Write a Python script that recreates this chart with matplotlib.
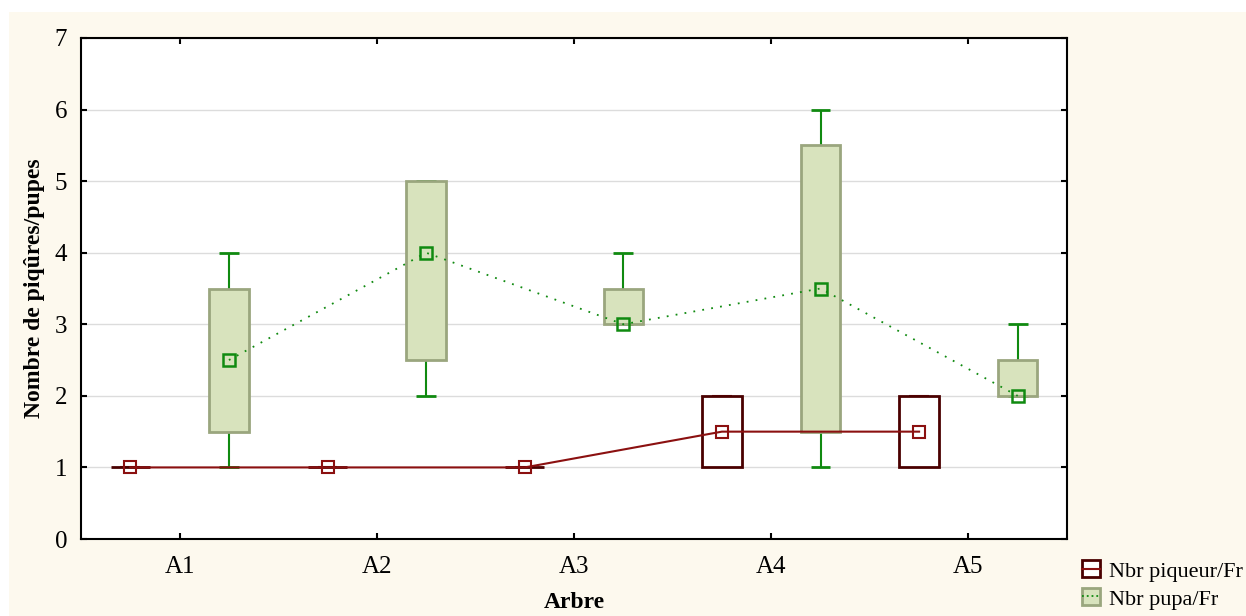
import numpy as np
import matplotlib
matplotlib.use('Agg')
import matplotlib.pyplot as plt
from matplotlib.patches import Patch, Rectangle
from matplotlib.lines import Line2D

# data
trees = ['A1', 'A2', 'A3', 'A4', 'A5']

piq_med = [1, 1, 1, 1.5, 1.5]
piq_q1 = [1, 1, 1, 1, 1]
piq_q3 = [1, 1, 1, 2, 2]
piq_min = [1, 1, 1, 1, 1]
piq_max = [1, 1, 1, 2, 2]

pupa_med = [2.5, 4, 3, 3.5, 2]
pupa_q1 = [1.5, 2.5, 3, 1.5, 2]
pupa_q3 = [3.5, 5, 3.5, 5.5, 2.5]
pupa_min = [1, 2, 3, 1, 2]
pupa_max = [4, 5, 4, 6, 3]

plt.rcParams['font.family'] = ['Liberation Serif', 'DejaVu Serif']

fig = plt.figure(figsize=(12.46, 6.16), dpi=100)
fig.patch.set_facecolor('white')
# cream background, with a thin white strip on top and left like the original
fig.patches.append(Rectangle((9 / 1246, 0), 1, (616 - 12) / 616, transform=fig.transFigure,
                             facecolor='#fdf9ee', edgecolor='none', zorder=-10))

ax = fig.add_axes([81 / 1246, 77 / 616, 986 / 1246, 501 / 616])
ax.set_facecolor('white')

x = np.arange(len(trees))
off = 0.25
bw = 0.2
cw = 0.1

red_line = '#8b1010'
red_box = '#4a0000'
grn_line = '#108a10'
grn_fill = '#d8e3bd'
grn_edge = '#9aa67e'

# pupa boxes
xg = x + off
ax.bar(xg, np.array(pupa_q3) - np.array(pupa_q1), bottom=pupa_q1, width=bw,
       color=grn_fill, edgecolor=grn_edge, linewidth=2, zorder=3)
ax.vlines(xg, pupa_q3, pupa_max, color=grn_line, lw=1.5, zorder=2)
ax.vlines(xg, pupa_min, pupa_q1, color=grn_line, lw=1.5, zorder=2)
ax.hlines(pupa_max, xg - cw / 2, xg + cw / 2, color=grn_line, lw=2, zorder=2)
ax.hlines(pupa_min, xg - cw / 2, xg + cw / 2, color=grn_line, lw=2, zorder=2)

# piqueur boxes
xr = x - off
ax.bar(xr, np.array(piq_q3) - np.array(piq_q1), bottom=piq_q1, width=bw,
       color='white', edgecolor=red_box, linewidth=2, zorder=3)
ax.hlines(piq_max, xr - cw / 2, xr + cw / 2, color=red_line, lw=1.5, zorder=2)

# median lines
ax.plot(xr, piq_med, color=red_line, lw=1.5, marker='s', markersize=8,
        markerfacecolor='none', markeredgecolor=red_line, markeredgewidth=1.5, zorder=5)
ax.plot(xg, pupa_med, color=grn_line, lw=1.3, ls=(0, (1, 4)), marker='s', markersize=8,
        markerfacecolor='none', markeredgecolor=grn_line, markeredgewidth=1.8, zorder=5)

ax.set_xlim(-0.5, 4.5)
ax.set_ylim(0, 7)
ax.set_xticks(x)
ax.set_xticklabels(trees)
ax.set_yticks(range(8))
ax.yaxis.grid(True, color='#dcdcdc', lw=1)
ax.set_axisbelow(True)
ax.tick_params(direction='in', length=4, width=1.5, labelsize=18, top=True, right=True,
               colors='black')
ax.tick_params(axis='x', pad=12)
ax.tick_params(axis='y', pad=10)
for s in ax.spines.values():
    s.set_linewidth(1.5)

ax.set_xlabel('Arbre', fontsize=17, fontweight='bold', labelpad=10)
ax.set_ylabel('Nombre de piqûres/pupes', fontsize=17, fontweight='bold', labelpad=7)

h1 = (Patch(facecolor='white', edgecolor=red_box, lw=2),
      Line2D([], [], color=red_line, lw=1.5))
h2 = (Patch(facecolor=grn_fill, edgecolor=grn_edge, lw=2),
      Line2D([], [], color=grn_line, lw=1.3, ls=':'))
fig.legend([h1, h2], ['Nbr piqueur/Fr', 'Nbr pupa/Fr'], loc='lower left',
           bbox_to_anchor=(1062 / 1246, -0.022), frameon=False, fontsize=16,
           handlelength=0.8, handleheight=0.8, handletextpad=0.4, labelspacing=0.3)

fig.savefig('out.png', dpi=100)
